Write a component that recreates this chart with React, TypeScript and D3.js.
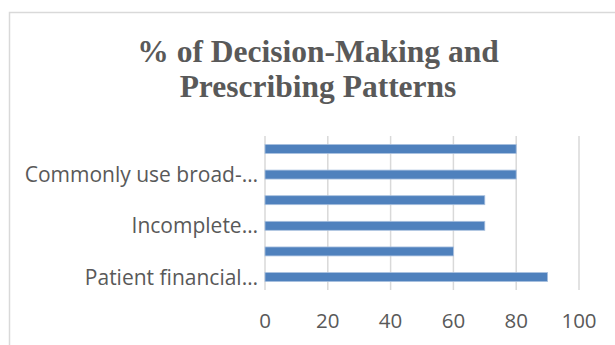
import React from "react";
import * as d3 from "d3";

const titleLines = ["% of Decision-Making and", "Prescribing Patterns"];
// bottom to top
const categories = [
  "Patient financial constraints",
  "Category 2",
  "Incomplete diagnostic information",
  "Category 4",
  "Commonly use broad-spectrum antibiotics",
  "Category 6",
];
const shownLabels = ["Patient financial…", "", "Incomplete…", "", "Commonly use broad-…", ""];
const values = [90, 60, 70, 70, 80, 80];
const ticks = [0, 20, 40, 60, 80, 100];

const W = 615;
const H = 345;
const left = 265;
const right = 579;
const top = 136;
const bottom = 290;

export default function App() {
  const x = d3.scaleLinear().domain([0, 100]).range([left, right]);
  const y = d3
    .scaleBand<string>()
    .domain([...categories].reverse())
    .range([top, bottom])
    .paddingInner(0.65)
    .paddingOuter(0.33);
  const labelFont = "'Open Sans', 'Liberation Sans', sans-serif";
  return (
    <svg width={W} height={H} style={{ position: "absolute", left: 0, top: 0 }}>
      <rect x={0} y={0} width={W} height={H} fill="#fff" />
      <rect x={9.5} y={12.5} width={W + 20} height={H + 20} fill="#fff" stroke="#d9d9d9" strokeWidth={1.5} />
      {titleLines.map((t, i) => (
        <text
          key={i}
          x={318}
          y={62 + i * 34.5}
          textAnchor="middle"
          fontFamily="'Liberation Serif', 'Times New Roman', serif"
          fontWeight="bold"
          fontSize={31.5}
          fill="#595959"
        >
          {t}
        </text>
      ))}
      {ticks.map((t) => (
        <line key={t} x1={x(t)} x2={x(t)} y1={top} y2={bottom} stroke="#d9d9d9" strokeWidth={1.5} />
      ))}
      {categories.map((c, i) => (
        <rect
          key={c}
          x={x(0)}
          y={y(c)!}
          width={x(values[i]) - x(0)}
          height={y.bandwidth()}
          fill="#4f81bd"
          stroke="#a9c0df"
          strokeWidth={0.8}
        />
      ))}
      {categories.map((c, i) =>
        shownLabels[i] ? (
          <text
            key={c}
            x={258}
            y={y(c)! + y.bandwidth() / 2}
            dy="0.36em"
            textAnchor="end"
            fontFamily={labelFont}
            fontSize={21}
            fill="#595959"
          >
            {shownLabels[i]}
          </text>
        ) : null
      )}
      {ticks.map((t) => (
        <text
          key={t}
          x={x(t)}
          y={321}
          dy="0.36em"
          textAnchor="middle"
          fontFamily={labelFont}
          fontSize={20.5}
          fill="#595959"
        >
          {t}
        </text>
      ))}
    </svg>
  );
}
